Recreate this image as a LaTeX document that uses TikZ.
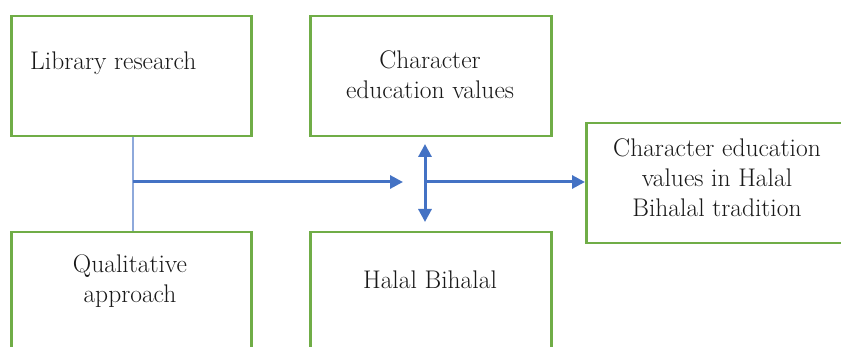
\documentclass[tikz,border=0pt]{standalone}
\usetikzlibrary{arrows.meta}
\definecolor{boxgreen}{HTML}{70AD47}
\definecolor{lineblue}{HTML}{4472C4}
\definecolor{lightblue}{HTML}{8EA9DB}
\begin{document}
\begin{tikzpicture}[x=1pt,y=-1pt,
  box/.style={draw=boxgreen, line width=2.5pt, fill=white, anchor=north west, inner sep=0pt},
  lbl/.style={font=\fontsize{25.5}{30}\selectfont, text=black!90, align=center, inner sep=0pt},
  conn/.style={draw=lineblue, line width=3pt},
  tip/.style={-{Triangle[length=13pt,width=13pt]}}]
\useasboundingbox (0,0) rectangle (841,347);
\clip (0,0) rectangle (841,347);
\fill[white] (0,0) rectangle (841,347);
% boxes
\node[box, minimum width=240pt, minimum height=120pt] (b1) at (10,15) {};
\node[box, minimum width=240pt, minimum height=170pt] (b2) at (10,231) {};
\node[box, minimum width=241pt, minimum height=120pt] (b3) at (309,15) {};
\node[box, minimum width=241pt, minimum height=170pt] (b4) at (309,231) {};
\node[box, minimum width=300pt, minimum height=120pt] (b5) at (585,122) {};
% labels
\node[lbl, anchor=west] (t1) at (30,63) {Library research};
\node[lbl] (t2) at (130,281) {Qualitative\\approach};
\node[lbl] (t3) at (430,75) {Character\\education values};
\node[lbl] (t4) at (430,280) {Halal Bihalal};
\node[lbl] (t5) at (717,178) {Character education\\values in Halal\\Bihalal tradition};
% connectors
\coordinate (j) at (133,182);
\coordinate (t) at (403,182);
\coordinate (c) at (425,182);
\coordinate (u) at (425,144);
\coordinate (d) at (425,222);
\draw[draw=lightblue, line width=2pt] (b1.south -| j) -- (b2.north -| j);
\draw[conn, tip] (j) -- (t);
\draw[conn, {Triangle[length=13pt,width=13pt]}-{Triangle[length=13pt,width=13pt]}] (u) -- (d);
\draw[conn, tip] (c) -- (c -| b5.west);
\end{tikzpicture}
\end{document}
